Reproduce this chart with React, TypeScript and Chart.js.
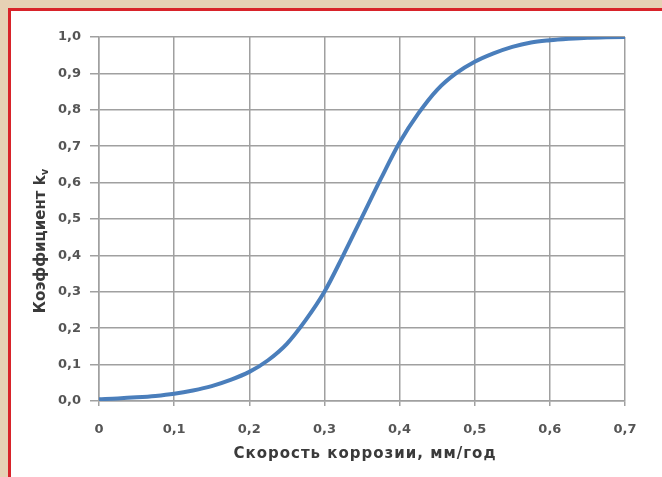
import React, { useEffect, useRef } from 'react';
import { Chart, registerables } from 'chart.js';
Chart.register(...registerables);

const corrosionRate = [0, 0.025, 0.05, 0.075, 0.1, 0.125, 0.15, 0.175, 0.2, 0.225, 0.25, 0.275, 0.3, 0.325, 0.35, 0.375, 0.4, 0.425, 0.45, 0.475, 0.5, 0.525, 0.55, 0.575, 0.6, 0.625, 0.65, 0.675, 0.7];
const coefficientKv = [0.005, 0.007, 0.01, 0.014, 0.02, 0.029, 0.041, 0.058, 0.08, 0.112, 0.157, 0.222, 0.3, 0.4, 0.505, 0.61, 0.71, 0.79, 0.855, 0.9, 0.932, 0.955, 0.973, 0.985, 0.991, 0.995, 0.998, 0.999, 1.0];
const xTickValues = [0, 0.1, 0.2, 0.3, 0.4, 0.5, 0.6, 0.7];
const yTickValues = [0, 0.1, 0.2, 0.3, 0.4, 0.5, 0.6, 0.7, 0.8, 0.9, 1.0];
const xTitle = 'Скорость коррозии, мм/год';
const yTitleMain = 'Коэффициент k';
const yTitleSub = 'v';

const FONT = '"DejaVu Sans", sans-serif';

const fmt = (v: number) => (v === 0 ? '0' : v.toFixed(1).replace('.', ','));
const fmtY = (v: number) => v.toFixed(1).replace('.', ',');

const titlesPlugin = {
  id: 'titles',
  afterDraw(chart: any) {
    const { ctx, chartArea } = chart;
    ctx.save();
    ctx.fillStyle = '#3a3a3a';
    ctx.font = `bold 15px ${FONT}`;
    (ctx as any).letterSpacing = '1px';
    ctx.textAlign = 'center';
    ctx.textBaseline = 'middle';
    ctx.fillText(xTitle, (chartArea.left + chartArea.right) / 2 + 3, chartArea.bottom + 53);
    (ctx as any).letterSpacing = '0px';

    // y title rotated with subscript
    ctx.translate(41, chartArea.bottom - 160);
    ctx.rotate(-Math.PI / 2);
    ctx.font = `bold 15px ${FONT}`;
    const wMain = ctx.measureText(yTitleMain).width;
    ctx.font = `bold 10px ${FONT}`;
    const wSub = ctx.measureText(yTitleSub).width;
    const total = wMain + wSub;
    ctx.textAlign = 'left';
    ctx.font = `bold 15px ${FONT}`;
    ctx.fillText(yTitleMain, -total / 2, 0);
    ctx.font = `bold 10px ${FONT}`;
    ctx.fillText(yTitleSub, -total / 2 + wMain, 4);
    ctx.restore();
  },
};

export default function App() {
  const ref = useRef<HTMLCanvasElement | null>(null);
  useEffect(() => {
    if (!ref.current) return;
    const chart = new Chart(ref.current, {
      type: 'line',
      data: {
        datasets: [
          {
            data: corrosionRate.map((x, i) => ({ x, y: coefficientKv[i] })),
            borderColor: '#4a7ebb',
            borderWidth: 4,
            pointRadius: 0,
            fill: false,
            cubicInterpolationMode: 'monotone',
          },
        ],
      },
      options: {
        animation: false,
        responsive: false,
        maintainAspectRatio: false,
        layout: { padding: { left: 0, top: 37, right: 37, bottom: 0 } },
        plugins: { legend: { display: false }, tooltip: { enabled: false } },
        scales: {
          x: {
            type: 'linear',
            min: 0,
            max: 0.7,
            afterBuildTicks: (scale: any) => {
              scale.ticks = xTickValues.map((v) => ({ value: v }));
            },
            afterFit: (scale: any) => {
              scale.height = 76;
            },
            ticks: {
              callback: (v: any) => fmt(Number(v)),
              color: '#555',
              font: { family: FONT, size: 13, weight: 'bold' },
              padding: 16,
              maxRotation: 0,
            },
            grid: { color: '#a0a0a0', lineWidth: 1.5, tickLength: 5, drawTicks: true },
            border: { color: '#a0a0a0', width: 1.5 },
          },
          y: {
            type: 'linear',
            min: 0,
            max: 1,
            afterBuildTicks: (scale: any) => {
              scale.ticks = yTickValues.map((v) => ({ value: v }));
            },
            afterFit: (scale: any) => {
              scale.width = 99;
            },
            ticks: {
              callback: (v: any) => fmtY(Number(v)),
              color: '#555',
              font: { family: FONT, size: 13, weight: 'bold' },
              padding: 9,
            },
            grid: { color: '#a0a0a0', lineWidth: 1.5, tickLength: 9 },
            border: { color: '#a0a0a0', width: 1.5 },
          },
        },
      },
      plugins: [titlesPlugin],
    } as any);
    return () => chart.destroy();
  }, []);

  return (
    <div style={{ position: 'fixed', left: 0, top: 0, width: 662, height: 477, background: '#e6d1b5', overflow: 'hidden' }}>
      <div
        style={{
          position: 'absolute',
          left: 8,
          top: 8,
          right: -10,
          bottom: -10,
          background: '#ffffff',
          borderLeft: '3px solid #d8232a',
          borderTop: '3px solid #d8232a',
        }}
      />
      <canvas ref={ref} width={662} height={477} style={{ position: 'absolute', left: 0, top: 0, width: 662, height: 477 }} />
    </div>
  );
}
